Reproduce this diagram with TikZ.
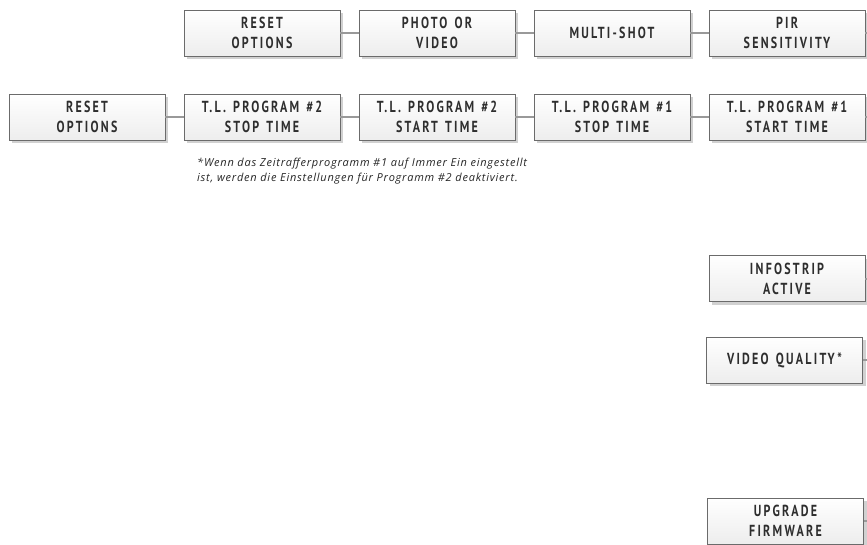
\documentclass[tikz,border=0pt]{standalone}
\usepackage{fontspec}
\usepackage{xcolor}
\usepackage{tikz}
\usetikzlibrary{shadows}
\newfontfamily\boxfont{PT Sans}[FakeStretch=0.75,LetterSpace=14,WordSpace=1.35]
\newfontfamily\notefont{Open Sans}[LetterSpace=7]

\tikzset{
  menubox/.style={rectangle,draw=black!58,line width=1pt,minimum width=156pt,minimum height=46pt,
    inner sep=0pt,outer sep=0pt,align=center,top color=white,bottom color=black!7,
    drop shadow={shadow xshift=3pt,shadow yshift=-3pt,fill=black!18,opacity=1},
    font=\boxfont\bfseries\fontsize{16}{20}\selectfont,text=black!82},
  link/.style={draw=black!40,line width=2pt}
}

\begin{document}
\begin{tikzpicture}[x=1pt,y=-1pt]
\useasboundingbox[fill=white] (0,0) rectangle (867,544);

\node (M11)[menubox] at (262,33) {RESET\\OPTIONS};
\node (M21)[menubox] at (437,33) {PHOTO OR\\VIDEO};
\node (M31)[menubox] at (612,33) {MULTI-SHOT};
\node (M41)[menubox] at (787,33) {PIR\\SENSITIVITY};

\node (M02)[menubox] at (87,117) {RESET\\OPTIONS};
\node (M12)[menubox] at (262,117) {T.L. PROGRAM \#2\\STOP TIME};
\node (M22)[menubox] at (437,117) {T.L. PROGRAM \#2\\START TIME};
\node (M32)[menubox] at (612,117) {T.L. PROGRAM \#1\\STOP TIME};
\node (M42)[menubox] at (787,117) {T.L. PROGRAM \#1\\START TIME};

\node (M43)[menubox] at (787,278.5) {INFOSTRIP\\ACTIVE};
\node (M44)[menubox] at (784.5,360) {VIDEO QUALITY*};
\node (M45)[menubox] at (785.5,521) {UPGRADE\\FIRMWARE};

\node (N1)[anchor=north west,inner sep=0pt,align=left,text=black!85,
  font=\notefont\itshape\fontsize{11}{15}\selectfont] at (197,158)
  {*Wenn das Zeitrafferprogramm \#1 auf Immer Ein eingestellt\\
   ist, werden die Einstellungen für Programm \#2 deaktiviert.};

% right ends, cut off by the page
\coordinate (E1) at (867,33);
\coordinate (E2) at (867,117);
\coordinate (E3) at (867,278.5);
\coordinate (E4) at (867,360);
\coordinate (E5) at (867,521);

\draw[link] (M11) -- (M21);
\draw[link] (M21) -- (M31);
\draw[link] (M31) -- (M41);
\draw[link] (M41.east) -- (E1);

\draw[link] (M02) -- (M12);
\draw[link] (M12) -- (M22);
\draw[link] (M22) -- (M32);
\draw[link] (M32) -- (M42);
\draw[link] (M42.east) -- (E2);

\draw[link] (M43.east) -- (E3);
\draw[link] (M44.east) -- (E4);
\draw[link] (M45.east) -- (E5);
\end{tikzpicture}
\end{document}
